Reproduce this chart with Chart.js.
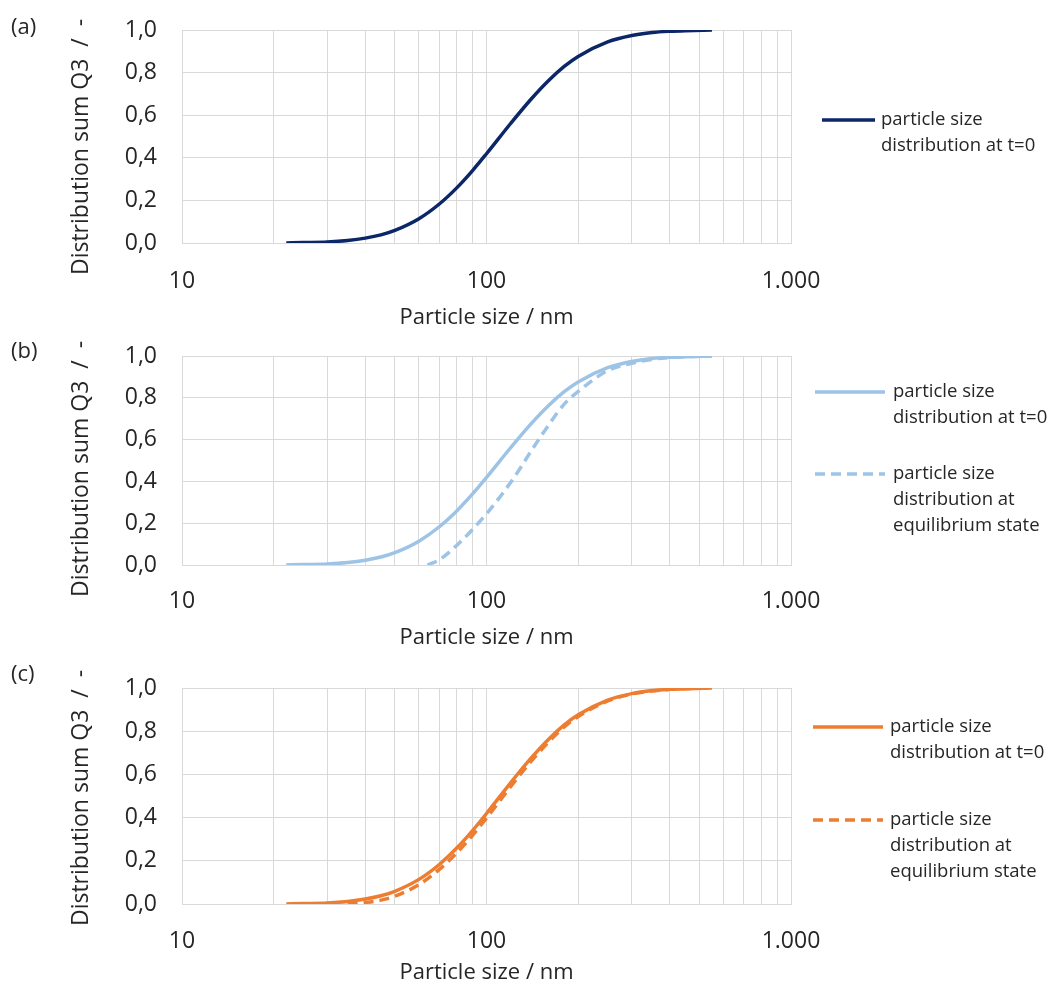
<!DOCTYPE html>
<html>
<head>
<meta charset="utf-8">
<title>Particle size distribution</title>
<script src="https://cdn.jsdelivr.net/npm/chart.js@4.4.1/dist/chart.umd.min.js"></script>
<style>
  html, body { margin: 0; padding: 0; background: #fff; overflow: hidden; }
  #wrap { position: relative; width: 1048px; height: 982px; }
  .panel { position: absolute; left: 0; width: 1048px; }
</style>
</head>
<body>
<div id="wrap">
  <div class="panel" style="top:0;height:330px"><canvas id="chartA"></canvas></div>
  <div class="panel" style="top:330px;height:320px"><canvas id="chartB"></canvas></div>
  <div class="panel" style="top:650px;height:332px"><canvas id="chartC"></canvas></div>
</div>
<script>
// particle size (nm) and cumulative Q3 at t=0 (same curve in all three panels)
var sizesStart = [22, 25, 30, 35, 40, 45, 50, 60, 70, 80, 90, 100, 120, 140, 160, 180, 200, 250, 300, 350, 400, 450, 550];
var q3Start = [0.0, 0.002, 0.005, 0.012, 0.023, 0.038, 0.059, 0.114, 0.183, 0.26, 0.34, 0.419, 0.561, 0.675, 0.763, 0.829, 0.876, 0.944, 0.974, 0.988, 0.994, 0.997, 1.0];

// panel (b): equilibrium state
var sizesEquiB = [64, 70, 80, 90, 100, 110, 120, 130, 140, 150, 160, 180, 200, 250, 300, 350, 400, 450, 550];
var q3EquiB = [0.0, 0.025, 0.095, 0.17, 0.245, 0.32, 0.395, 0.47, 0.545, 0.61, 0.67, 0.77, 0.83, 0.93, 0.965, 0.984, 0.993, 0.997, 1.0];

// panel (c): equilibrium state
var sizesEquiC = [35, 40, 45, 50, 60, 70, 80, 90, 100, 120, 140, 160, 180, 200, 250, 300, 400, 550];
var q3EquiC = [0.0, 0.007, 0.018, 0.036, 0.09, 0.16, 0.238, 0.318, 0.398, 0.543, 0.66, 0.75, 0.82, 0.868, 0.94, 0.972, 0.994, 1.0];

// axis ticks
var xGridValues = [10, 20, 30, 40, 50, 60, 70, 80, 90, 100, 200, 300, 400, 500, 600, 700, 800, 900, 1000];
var xLabelValues = [10, 100, 1000];
var yTicks = [0, 0.2, 0.4, 0.6, 0.8, 1.0];

var labelStart = 'particle size\ndistribution at t=0';
var labelEqui = 'particle size\ndistribution at\nequilibrium state';
var yTitle = 'Distribution sum Q3  /  -';

var FONT = '"Open Sans", sans-serif';
var TEXT = '#262626';
var GRID = '#d9d9d9';

function points(xs, ys) {
    return xs.map(function (x, i) { return { x: x, y: ys[i] }; });
}

function formatSize(v) {
    // thousands separator as dot
    return String(v).replace(/(\d)(?=(\d{3})+$)/g, '$1.');
}

// legend to the right of the plot with wrapped labels, panel tag and rotated y title
var sideLegend = {
    id: 'sideLegend',
    afterDraw: function (chart, args, opts) {
        var ctx = chart.ctx;
        ctx.save();
        ctx.textBaseline = 'middle';
        ctx.textAlign = 'left';
        ctx.fillStyle = TEXT;
        chart.data.datasets.forEach(function (ds, i) {
            var y = opts.rows[i];
            ctx.strokeStyle = ds.borderColor;
            ctx.lineWidth = 3.5;
            ctx.setLineDash(ds.borderDash || []);
            ctx.beginPath();
            ctx.moveTo(opts.lineFrom, y);
            ctx.lineTo(opts.lineTo, y);
            ctx.stroke();
            ctx.setLineDash([]);
            ctx.font = '18.5px ' + FONT;
            ds.label.split('\n').forEach(function (t, k) {
                ctx.fillText(t, opts.textX, y + k * 26);
            });
        });
        ctx.font = '22px ' + FONT;
        ctx.fillText(opts.tag, 11, opts.tagY);

        ctx.translate(81, opts.titleY);
        ctx.rotate(-Math.PI / 2);
        ctx.textAlign = 'center';
        ctx.font = '23px ' + FONT;
        ctx.fillText(yTitle, 0, 0);
        ctx.restore();
    }
};

function makeChart(id, datasets, g) {
    return new Chart(document.getElementById(id), {
        type: 'line',
        data: { datasets: datasets },
        plugins: [sideLegend],
        options: {
            responsive: true,
            maintainAspectRatio: false,
            animation: false,
            layout: { padding: { top: g.top, right: 257, left: 0, bottom: 0 } },
            elements: { point: { radius: 0 } },
            plugins: {
                legend: { display: false },
                tooltip: { enabled: false },
                sideLegend: g.legend
            },
            scales: {
                x: {
                    type: 'logarithmic',
                    min: 10,
                    max: 1000,
                    afterBuildTicks: function (scale) {
                        scale.ticks = xGridValues.map(function (v) { return { value: v }; });
                    },
                    afterFit: function (scale) { scale.height = g.xHeight; },
                    grid: { color: GRID, lineWidth: 1, drawTicks: false },
                    border: { color: GRID },
                    ticks: {
                        autoSkip: false,
                        maxRotation: 0,
                        padding: g.tickPad,
                        color: TEXT,
                        font: { family: FONT, size: 23 },
                        callback: function (v) {
                            return xLabelValues.indexOf(v) >= 0 ? formatSize(v) : '';
                        }
                    },
                    title: {
                        display: true,
                        text: 'Particle size / nm',
                        color: TEXT,
                        font: { family: FONT, size: 22 },
                        padding: { top: 0, bottom: g.titlePad }
                    }
                },
                y: {
                    min: 0,
                    max: 1,
                    afterBuildTicks: function (scale) {
                        scale.ticks = yTicks.map(function (v) { return { value: v }; });
                    },
                    afterFit: function (scale) { scale.width = 182; },
                    // invisible tick marks keep the labels away from the plot
                    grid: { color: GRID, lineWidth: 1, drawTicks: true, tickLength: 20, tickColor: 'rgba(0,0,0,0)' },
                    border: { color: GRID },
                    ticks: {
                        padding: 5,
                        color: TEXT,
                        font: { family: FONT, size: 23 },
                        callback: function (v) { return v.toFixed(1).replace('.', ','); }
                    }
                }
            }
        }
    });
}

function series(label, xs, ys, color, dashed) {
    return {
        label: label,
        data: points(xs, ys),
        borderColor: color,
        backgroundColor: color,
        borderWidth: 3.5,
        borderDash: dashed ? [10, 6] : [],
        cubicInterpolationMode: 'monotone',
        fill: false
    };
}

var NAVY = '#0b2767';
var LIGHT = '#9dc3e6';
var ORANGE = '#ed7d31';

makeChart('chartA', [
    series(labelStart, sizesStart, q3Start, NAVY, false)
], {
    top: 30, xHeight: 87, tickPad: 25, titlePad: -1,
    legend: { rows: [120], lineFrom: 822, lineTo: 875, textX: 881, tag: '(a)', tagY: 28, titleY: 147 }
});

makeChart('chartB', [
    series(labelStart, sizesStart, q3Start, LIGHT, false),
    series(labelEqui, sizesEquiB, q3EquiB, LIGHT, true)
], {
    top: 26, xHeight: 85, tickPad: 23, titlePad: -1,
    legend: { rows: [62, 144], lineFrom: 815, lineTo: 885, textX: 893, tag: '(b)', tagY: 22, titleY: 139 }
});

makeChart('chartC', [
    series(labelStart, sizesStart, q3Start, ORANGE, false),
    series(labelEqui, sizesEquiC, q3EquiC, ORANGE, true)
], {
    top: 38, xHeight: 78, tickPad: 24, titlePad: -4,
    legend: { rows: [77, 170], lineFrom: 813, lineTo: 883, textX: 890, tag: '(c)', tagY: 25, titleY: 148 }
});
</script>
</body>
</html>
